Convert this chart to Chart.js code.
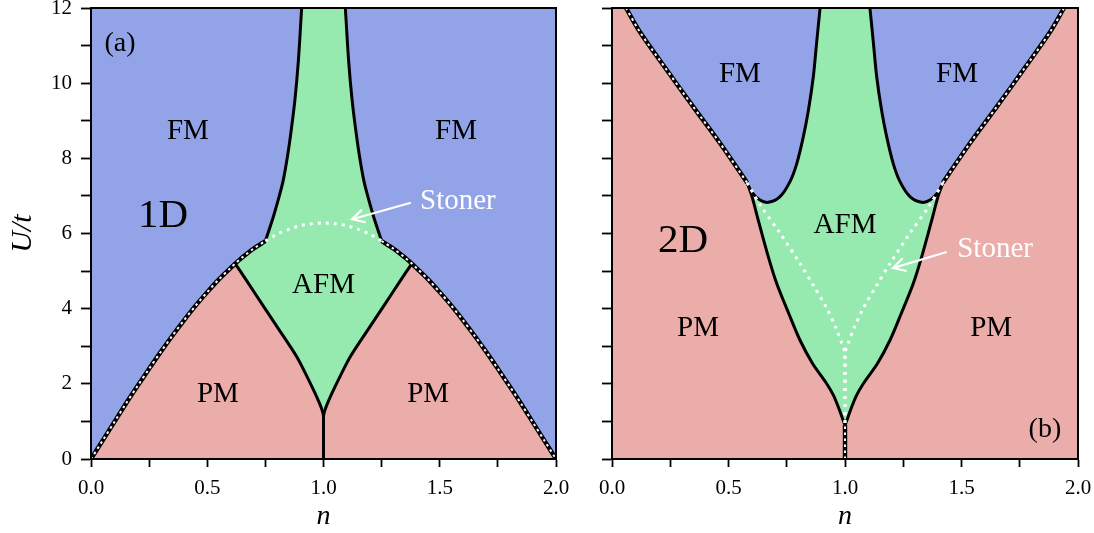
<!DOCTYPE html>
<html lang="de">
<head>
<meta charset="utf-8">
<title>Phasendiagramm Hubbard-Modell 1D / 2D</title>
<script src="https://cdn.jsdelivr.net/npm/chart.js@4.4.0/dist/chart.umd.min.js"></script>
<style>
  html, body { margin: 0; padding: 0; background: #fff; }
  #panel1d, #panel2d { position: absolute; top: 0; height: 533px; }
  #panel1d { left: 0; width: 575px; }
  #panel2d { left: 575px; width: 519px; }
</style>
</head>
<body>
<div id="panel1d"><canvas id="chart1d"></canvas></div>
<div id="panel2d"><canvas id="chart2d"></canvas></div>
<script>
// Phasengrenzen als Paare [n, U/t]

// ---- 1D ----
// FM/PM-Grenze links (gestrichelt), bis zum Knick am AFM-Gebiet
const fmPmLinks1d = [[0, 0], [0.05, 0.49], [0.1, 0.98], [0.15, 1.47], [0.2, 1.94], [0.25, 2.4], [0.3, 2.85],
  [0.35, 3.28], [0.4, 3.69], [0.45, 4.08], [0.5, 4.44], [0.55, 4.78], [0.6, 5.08], [0.62, 5.2]];
const knickLinks1d = [[0.62, 5.2], [0.65, 5.36], [0.7, 5.6], [0.75, 5.8]];
// Stoner-Kriterium (weiss gepunktet)
const stoner1d = [[0.75, 5.8], [0.8, 5.98], [0.85, 6.11], [0.9, 6.21], [0.95, 6.26], [1, 6.28],
  [1.05, 6.26], [1.1, 6.21], [1.15, 6.11], [1.2, 5.98], [1.25, 5.8]];
const knickRechts1d = [[1.25, 5.8], [1.3, 5.6], [1.35, 5.36], [1.38, 5.2]];
const fmPmRechts1d = [[1.38, 5.2], [1.4, 5.08], [1.45, 4.78], [1.5, 4.44], [1.55, 4.08], [1.6, 3.69], [1.65, 3.28],
  [1.7, 2.85], [1.75, 2.4], [1.8, 1.94], [1.85, 1.47], [1.9, 0.98], [1.95, 0.49], [2, 0]];
// AFM/PM (von oben nach unten)
const afmPmLinks1d = [[0.62, 5.2], [0.67, 4.74], [0.74, 4.08], [0.81, 3.43], [0.885, 2.72], [0.935, 2.12],
  [0.963, 1.76], [0.983, 1.48], [0.995, 1.28], [1, 1.15]];
const afmPmRechts1d = [[1.38, 5.2], [1.33, 4.74], [1.26, 4.08], [1.19, 3.43], [1.115, 2.72], [1.065, 2.12],
  [1.037, 1.76], [1.017, 1.48], [1.005, 1.28], [1, 1.15]];
const mitte1d = [[1, 0], [1, 1.15]];
// AFM/FM (von unten nach oben)
const afmFmLinks1d = [[0.75, 5.8], [0.784, 6.44], [0.81, 7.0], [0.827, 7.42], [0.845, 8.05], [0.858, 8.6],
  [0.877, 9.55], [0.892, 10.6], [0.906, 12]];
const afmFmRechts1d = [[1.25, 5.8], [1.216, 6.44], [1.19, 7.0], [1.173, 7.42], [1.155, 8.05], [1.142, 8.6],
  [1.123, 9.55], [1.108, 10.6], [1.094, 12]];

// ---- 2D ----
const fmPmLinks2d = [[0.06, 12], [0.12, 11.36], [0.235, 10.35], [0.349, 9.37], [0.464, 8.4], [0.58, 7.35]];
const fmPmRechts2d = [[1.42, 7.35], [1.536, 8.4], [1.651, 9.37], [1.765, 10.35], [1.88, 11.36], [1.94, 12]];
const stonerLinks2d = [[0.58, 7.35], [0.64, 6.72], [0.72, 6.02], [0.807, 5.2], [0.864, 4.62], [0.921, 4.02],
  [0.96, 3.5], [0.985, 3.1], [1, 2.8], [1, 0.9]];
const stonerRechts2d = [[1.42, 7.35], [1.36, 6.72], [1.28, 6.02], [1.193, 5.2], [1.136, 4.62], [1.079, 4.02],
  [1.04, 3.5], [1.015, 3.1], [1, 2.8], [1, 0.9]];
const afmFmLinks2d = [[0.58, 7.35], [0.6, 7.1], [0.635, 6.89], [0.671, 6.83], [0.721, 6.98], [0.764, 7.38],
  [0.793, 7.86], [0.821, 8.57], [0.843, 9.28], [0.864, 10.17], [0.878, 11.06], [0.893, 12]];
const afmFmRechts2d = [[1.42, 7.35], [1.4, 7.1], [1.365, 6.89], [1.329, 6.83], [1.279, 6.98], [1.236, 7.38],
  [1.207, 7.86], [1.179, 8.57], [1.157, 9.28], [1.136, 10.17], [1.122, 11.06], [1.107, 12]];
const afmPmLinks2d = [[0.58, 7.35], [0.6, 7.0], [0.63, 6.3], [0.67, 5.4], [0.707, 4.67], [0.76, 3.85],
  [0.807, 3.16], [0.86, 2.55], [0.921, 2.01], [0.95, 1.7], [0.971, 1.39], [0.988, 1.1], [1, 0.9]];
const afmPmRechts2d = [[1.42, 7.35], [1.4, 7.0], [1.37, 6.3], [1.33, 5.4], [1.293, 4.67], [1.24, 3.85],
  [1.193, 3.16], [1.14, 2.55], [1.079, 2.01], [1.05, 1.7], [1.029, 1.39], [1.012, 1.1], [1, 0.9]];
const mitte2d = [[1, 0], [1, 0.9]];

const deckel = [[0, 12], [2, 12]];

const blau = '#93a3e8';
const gruen = '#96e9af';
const rosa = '#ebadaa';
const schrift = '"Liberation Serif", "DejaVu Serif", serif';

const pts = arr => arr.map(([n, u]) => ({ x: n, y: u }));
const rev = arr => [...arr].reverse();

const flaeche = (arr, farbe, fill, order) => ({
  data: pts(arr), showLine: true, fill, backgroundColor: farbe, borderColor: 'transparent',
  borderWidth: 0, pointRadius: 0, tension: 0, order
});
const linie = (arr, farbe, breite, dash, order) => ({
  data: pts(arr), showLine: true, fill: false, borderColor: farbe, borderWidth: breite,
  borderDash: dash, borderJoinStyle: 'round', pointRadius: 0, tension: 0.3, order
});
// schwarz-weiss gestrichelte Grenze
const gestrichelt = arr => [linie(arr, '#000', 4.4, [], 3), linie(arr, '#fff', 2, [2.5, 3.5], 2)];
const durchgezogen = arr => linie(arr, '#000', 3, [], 3);
const gepunktet = arr => linie(arr, '#fff', 3, [3, 5], 1);

// Texte und Pfeile im Diagramm
const beschriftung = {
  id: 'beschriftung',
  afterDatasetsDraw(chart, args, opts) {
    const { ctx, chartArea: a, scales: { x, y } } = chart;
    ctx.save();
    ctx.textAlign = 'center';
    ctx.textBaseline = 'middle';
    (opts.texte || []).forEach(t => {
      ctx.font = `${t.size}px ${schrift}`;
      ctx.fillStyle = t.farbe || '#000';
      ctx.fillText(t.text, x.getPixelForValue(t.n), y.getPixelForValue(t.u));
    });
    (opts.pfeile || []).forEach(p => {
      const x0 = x.getPixelForValue(p.von[0]), y0 = y.getPixelForValue(p.von[1]);
      const x1 = x.getPixelForValue(p.nach[0]), y1 = y.getPixelForValue(p.nach[1]);
      const w = Math.atan2(y1 - y0, x1 - x0);
      ctx.strokeStyle = '#fff';
      ctx.lineWidth = 2.2;
      ctx.lineCap = 'round';
      ctx.beginPath();
      ctx.moveTo(x0, y0);
      ctx.lineTo(x1, y1);
      ctx.moveTo(x1 - 13 * Math.cos(w - 0.5), y1 - 13 * Math.sin(w - 0.5));
      ctx.lineTo(x1, y1);
      ctx.lineTo(x1 - 13 * Math.cos(w + 0.5), y1 - 13 * Math.sin(w + 0.5));
      ctx.stroke();
    });
    // Rahmen ums Diagramm
    ctx.strokeStyle = '#000';
    ctx.lineWidth = 2;
    ctx.strokeRect(a.left, a.top, a.width, a.height);
    ctx.restore();
  }
};

const achsen = (yBreite, mitLabels) => ({
  x: {
    type: 'linear', min: 0, max: 2,
    afterFit: s => { s.height = 74; s.paddingLeft = 0; s.paddingRight = 0; },
    border: { color: '#000', width: 2 },
    grid: { drawOnChartArea: false, drawTicks: true, tickLength: 8, tickColor: '#000', tickWidth: 1.8 },
    ticks: {
      stepSize: 0.25, autoSkip: false, maxRotation: 0, color: '#000', padding: 9,
      font: { family: schrift, size: 21 },
      callback: v => (Math.round(v * 4) % 2 === 0 ? v.toFixed(1) : '')
    },
    title: { display: true, text: 'n', color: '#000', font: { family: schrift, size: 28, style: 'italic' }, padding: { top: 0, bottom: 0 } }
  },
  y: {
    type: 'linear', min: 0, max: 12,
    afterFit: s => { s.width = yBreite; s.paddingTop = 0; s.paddingBottom = 0; },
    border: { color: '#000', width: 2 },
    grid: { drawOnChartArea: false, drawTicks: true, tickLength: 10, tickColor: '#000', tickWidth: 1.8 },
    ticks: {
      stepSize: 1, autoSkip: false, color: '#000', padding: 9,
      font: { family: schrift, size: 21 },
      callback: v => (mitLabels && v % 2 === 0 ? String(v) : '')
    },
    title: { display: mitLabels, text: 'U/t', color: '#000', font: { family: schrift, size: 30, style: 'italic' }, padding: { top: 5, bottom: 0 } }
  }
});

const grundOptionen = (yBreite, mitLabels, rechts, texte, pfeile) => ({
  responsive: true,
  maintainAspectRatio: false,
  animation: false,
  events: [],
  layout: { autoPadding: false, padding: { top: 8, right: rechts, left: 0, bottom: 0 } },
  scales: achsen(yBreite, mitLabels),
  plugins: { legend: { display: false }, tooltip: { enabled: false }, beschriftung: { texte, pfeile } }
});

// ---- Panel (a): 1D ----
const texte1d = [
  { text: '(a)', n: 0.125, u: 11.05, size: 28 },
  { text: 'FM', n: 0.417, u: 8.72, size: 29 },
  { text: 'FM', n: 1.57, u: 8.72, size: 29 },
  { text: '1D', n: 0.31, u: 6.45, size: 41 },
  { text: 'Stoner', n: 1.578, u: 6.86, size: 29, farbe: '#fff' },
  { text: 'AFM', n: 1.0, u: 4.63, size: 29 },
  { text: 'PM', n: 0.546, u: 1.73, size: 29 },
  { text: 'PM', n: 1.45, u: 1.73, size: 29 }
];
const pfeile1d = [{ von: [1.372, 6.81], nach: [1.123, 6.38] }];

const afmFlaeche1d = [...rev(afmPmLinks1d), ...knickLinks1d, ...afmFmLinks1d, ...rev(afmFmRechts1d),
  ...knickRechts1d, ...afmPmRechts1d];
const pmKurve1d = [...fmPmLinks1d, ...knickLinks1d, ...stoner1d, ...knickRechts1d, ...fmPmRechts1d];

new Chart(document.getElementById('chart1d'), {
  type: 'scatter',
  data: {
    datasets: [
      flaeche(deckel, blau, 'start', 10),
      flaeche(pmKurve1d, rosa, 'start', 9),
      flaeche(afmFlaeche1d, gruen, 'shape', 8),
      ...gestrichelt([...fmPmLinks1d, ...knickLinks1d]),
      ...gestrichelt([...knickRechts1d, ...fmPmRechts1d]),
      durchgezogen(afmPmLinks1d),
      durchgezogen(afmPmRechts1d),
      durchgezogen(mitte1d),
      durchgezogen(afmFmLinks1d),
      durchgezogen(afmFmRechts1d),
      gepunktet(stoner1d)
    ]
  },
  options: grundOptionen(91, true, 19, texte1d, pfeile1d),
  plugins: [beschriftung]
});

// ---- Panel (b): 2D ----
const texte2d = [
  { text: 'FM', n: 0.549, u: 10.24, size: 29 },
  { text: 'FM', n: 1.481, u: 10.24, size: 29 },
  { text: 'AFM', n: 1.0, u: 6.22, size: 29 },
  { text: '2D', n: 0.305, u: 5.8, size: 41 },
  { text: 'Stoner', n: 1.644, u: 5.59, size: 29, farbe: '#fff' },
  { text: 'PM', n: 0.369, u: 3.48, size: 29 },
  { text: 'PM', n: 1.627, u: 3.48, size: 29 },
  { text: '(b)', n: 1.858, u: 0.77, size: 28 }
];
const pfeile2d = [{ von: [1.433, 5.5], nach: [1.206, 5.08] }];

const fmFlaecheLinks2d = [...fmPmLinks2d, ...afmFmLinks2d];
const fmFlaecheRechts2d = [...rev(fmPmRechts2d), ...afmFmRechts2d];
const afmFlaeche2d = [...rev(afmFmLinks2d), ...afmPmLinks2d, ...rev(afmPmRechts2d), ...afmFmRechts2d];

new Chart(document.getElementById('chart2d'), {
  type: 'scatter',
  data: {
    datasets: [
      flaeche(deckel, rosa, 'start', 10),
      flaeche(fmFlaecheLinks2d, blau, 'shape', 9),
      flaeche(fmFlaecheRechts2d, blau, 'shape', 9),
      flaeche(afmFlaeche2d, gruen, 'shape', 8),
      ...gestrichelt(fmPmLinks2d),
      ...gestrichelt(fmPmRechts2d),
      ...gestrichelt(mitte2d),
      durchgezogen(afmFmLinks2d),
      durchgezogen(afmFmRechts2d),
      durchgezogen(afmPmLinks2d),
      durchgezogen(afmPmRechts2d),
      gepunktet(stonerLinks2d),
      gepunktet(stonerRechts2d)
    ]
  },
  options: grundOptionen(37, false, 16, texte2d, pfeile2d),
  plugins: [beschriftung]
});
</script>
</body>
</html>
